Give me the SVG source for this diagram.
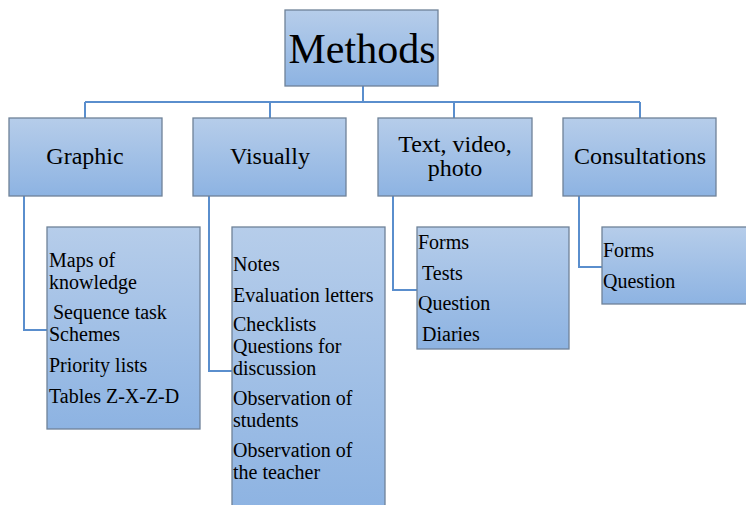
<svg xmlns="http://www.w3.org/2000/svg" width="746" height="505" viewBox="0 0 746 505">
<defs>
<linearGradient id="g" x1="0" y1="0" x2="0" y2="1">
<stop offset="0" stop-color="#b6cdea"/>
<stop offset="1" stop-color="#8db3e2"/>
</linearGradient>
</defs>
<rect width="746" height="505" fill="#fff"/>
<g id="connectors" fill="none" stroke="#5a8ecd" stroke-width="2">
<path d="M363 86V102M85 102H640M85 102V118M270 102V118M454 102V118M640 102V118"/>
<path d="M24 196V330H47"/>
<path d="M209 196V371H232"/>
<path d="M393 196V290H417"/>
<path d="M579 196V267H602"/>
</g>
<g id="methods">
<rect x="285" y="10" width="153" height="76" fill="url(#g)" stroke="#6f8298" stroke-width="1.3"/>
<text x="362" y="63" font-size="42" text-anchor="middle" font-family="Liberation Serif">Methods</text>
</g>
<g id="graphic">
<rect x="9" y="118" width="153" height="78" fill="url(#g)" stroke="#6f8298" stroke-width="1.3"/>
<text x="85" y="164" font-size="24" text-anchor="middle" font-family="Liberation Serif">Graphic</text>
</g>
<g id="visually">
<rect x="193" y="118" width="153" height="78" fill="url(#g)" stroke="#6f8298" stroke-width="1.3"/>
<text x="270" y="164" font-size="24" text-anchor="middle" font-family="Liberation Serif">Visually</text>
</g>
<g id="text-video-photo">
<rect x="378" y="118" width="154" height="78" fill="url(#g)" stroke="#6f8298" stroke-width="1.3"/>
<text x="455" y="152" font-size="24" text-anchor="middle" font-family="Liberation Serif">Text, video,</text>
<text x="455" y="176" font-size="24" text-anchor="middle" font-family="Liberation Serif">photo</text>
</g>
<g id="consultations">
<rect x="563" y="118" width="153" height="78" fill="url(#g)" stroke="#6f8298" stroke-width="1.3"/>
<text x="640" y="164" font-size="24" text-anchor="middle" font-family="Liberation Serif">Consultations</text>
</g>
<g id="graphic-items" font-family="Liberation Serif" font-size="20">
<rect x="47" y="227" width="153" height="202" fill="url(#g)" stroke="#6f8298" stroke-width="1.3"/>
<text x="49" y="267" font-family="Liberation Serif">Maps of</text>
<text x="49" y="289" font-family="Liberation Serif">knowledge</text>
<text x="53" y="319" font-family="Liberation Serif">Sequence task</text>
<text x="49" y="341" font-family="Liberation Serif">Schemes</text>
<text x="49" y="372" font-family="Liberation Serif">Priority lists</text>
<text x="49" y="403" font-family="Liberation Serif">Tables Z-X-Z-D</text>
</g>
<g id="visually-items" font-family="Liberation Serif" font-size="20">
<rect x="232" y="227" width="153" height="285" fill="url(#g)" stroke="#6f8298" stroke-width="1.3"/>
<text x="233" y="271" font-family="Liberation Serif">Notes</text>
<text x="233" y="302" font-family="Liberation Serif">Evaluation letters</text>
<text x="233" y="331" font-family="Liberation Serif">Checklists</text>
<text x="233" y="353" font-family="Liberation Serif">Questions for</text>
<text x="233" y="375" font-family="Liberation Serif">discussion</text>
<text x="233" y="405" font-family="Liberation Serif">Observation of</text>
<text x="233" y="427" font-family="Liberation Serif">students</text>
<text x="233" y="457" font-family="Liberation Serif">Observation of</text>
<text x="233" y="479" font-family="Liberation Serif">the teacher</text>
</g>
<g id="text-items" font-family="Liberation Serif" font-size="20">
<rect x="417" y="227" width="152" height="122" fill="url(#g)" stroke="#6f8298" stroke-width="1.3"/>
<text x="418" y="249" font-family="Liberation Serif">Forms</text>
<text x="422" y="280" font-family="Liberation Serif">Tests</text>
<text x="418" y="310" font-family="Liberation Serif">Question</text>
<text x="422" y="341" font-family="Liberation Serif">Diaries</text>
</g>
<g id="consultations-items" font-family="Liberation Serif" font-size="20">
<rect x="602" y="227" width="150" height="77" fill="url(#g)" stroke="#6f8298" stroke-width="1.3"/>
<text x="603" y="257" font-family="Liberation Serif">Forms</text>
<text x="603" y="288" font-family="Liberation Serif">Question</text>
</g>
</svg>
